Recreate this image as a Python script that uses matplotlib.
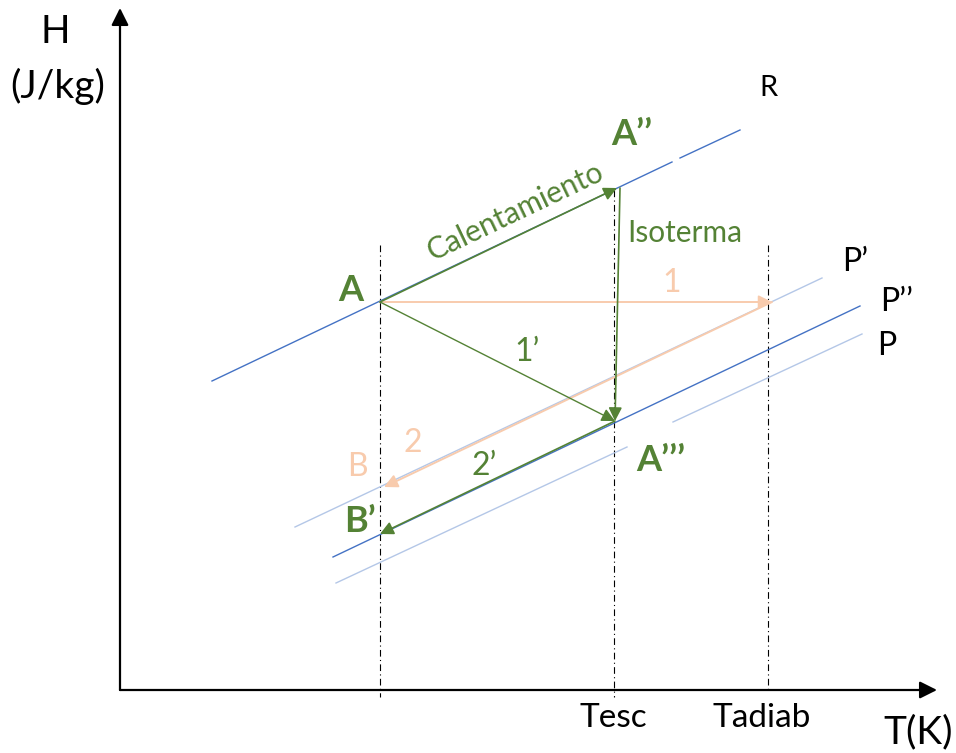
import matplotlib
matplotlib.use("Agg")
import matplotlib.pyplot as plt

plt.rcParams['font.family'] = ['Lato', 'DejaVu Sans']

# ---- diagram geometry (pixel-like coordinates, y grows downward) ----
R_line = [(212, 381), (672, 162)]
R_line2 = [(680, 158), (740, 130)]
Pp_line = [(295, 527), (822, 278)]        # P'
Ppp_line = [(333, 557), (860, 306)]       # P''
P_line1 = [(336, 583), (627, 447)]        # P
P_line2 = [(673, 422), (862, 334)]

pt_A = (380, 302)
pt_A2 = (617, 188)      # A''
pt_A3 = (615, 421)      # A'''
pt_B = (384, 487)
pt_Bp = (380, 534)
pt_T1 = (772, 302)      # end of arrow 1

vlines_x = [380, 614, 768]
vlines_top = [245, 190, 245]
vlines_bot = [697, 697, 690]

BLUE = '#4472C4'
LBLUE = '#B4C7E7'
GREEN = '#548235'
ORANGE = '#F8CBAD'

fig = plt.figure(figsize=(9.56, 7.53), dpi=100)
ax = fig.add_axes([0, 0, 1, 1])
ax.set_xlim(0, 956)
ax.set_ylim(753, 0)
ax.axis('off')

def seg(p, c, lw=1.0, **kw):
    ax.plot([p[0][0], p[1][0]], [p[0][1], p[1][1]], color=c, lw=lw, **kw)

def arrow(p0, p1, c, lw=1.0, ms=16, ls='-'):
    ax.annotate('', xy=p1, xytext=p0,
                arrowprops=dict(arrowstyle='-|>', color=c, lw=lw, linestyle=ls,
                                mutation_scale=ms, shrinkA=0, shrinkB=0))

# axes
arrow((120, 690), (120, 8), 'black', lw=1.6, ms=26)
arrow((120, 690), (937, 690), 'black', lw=1.6, ms=26)

# vertical dash-dot lines
for x, t, b in zip(vlines_x, vlines_top, vlines_bot):
    ax.plot([x, x], [t, b], color='black', lw=0.8, linestyle=(0, (6, 3, 1, 3)))

# enthalpy lines
seg(R_line, BLUE)
seg(R_line2, BLUE)
seg(Pp_line, LBLUE)
seg(Ppp_line, BLUE)
seg(P_line1, LBLUE)
seg(P_line2, LBLUE)

# process arrows
arrow(pt_A, pt_T1, ORANGE, lw=1.4, ms=20)
arrow(pt_T1, pt_B, ORANGE, lw=1.4, ms=20)
arrow(pt_A, pt_A2, GREEN, lw=1.2, ms=20)
arrow((620, 188), pt_A3, GREEN, lw=1.2, ms=20)
arrow(pt_A, pt_A3, GREEN, lw=1.0, ms=20)
arrow(pt_A3, pt_Bp, GREEN, lw=1.2, ms=20)

# labels
ax.text(55, 32, 'H', fontsize=28, ha='center', va='center')
ax.text(58, 86, '(J/kg)', fontsize=28, ha='center', va='center')
ax.text(768, 88, 'R', fontsize=21, ha='center', va='center')
ax.text(632, 134, 'A’’', fontsize=26, fontweight='bold', color=GREEN, ha='center', va='center')
ax.text(515, 212, 'Calentamiento', fontsize=21.5, color=GREEN, ha='center', va='center', rotation=25.5)
ax.text(685, 233, 'Isoterma', fontsize=21.5, color=GREEN, ha='center', va='center')
ax.text(351, 290, 'A', fontsize=26, fontweight='bold', color=GREEN, ha='center', va='center')
ax.text(672, 283, '1', fontsize=23, color=ORANGE, ha='center', va='center')
ax.text(527, 352, '1’', fontsize=23, color=GREEN, ha='center', va='center')
ax.text(413, 443, '2', fontsize=23, color=ORANGE, ha='center', va='center')
ax.text(357, 467, 'B', fontsize=23, color=ORANGE, ha='center', va='center')
ax.text(484, 466, '2’', fontsize=23, color=GREEN, ha='center', va='center')
ax.text(360, 522, 'B’', fontsize=26, fontweight='bold', color=GREEN, ha='center', va='center')
ax.text(661, 460, 'A’’’', fontsize=26, fontweight='bold', color=GREEN, ha='center', va='center')
ax.text(855, 262, 'P’', fontsize=23, ha='center', va='center')
ax.text(897, 302, 'P’’', fontsize=23, ha='center', va='center')
ax.text(887, 346, 'P', fontsize=23, ha='center', va='center')
ax.text(613, 718, 'Tesc', fontsize=24, ha='center', va='center')
ax.text(762, 718, 'Tadiab', fontsize=24, ha='center', va='center')
ax.text(918, 732, 'T(K)', fontsize=28, ha='center', va='center')

fig.savefig('out.png', dpi=100)
